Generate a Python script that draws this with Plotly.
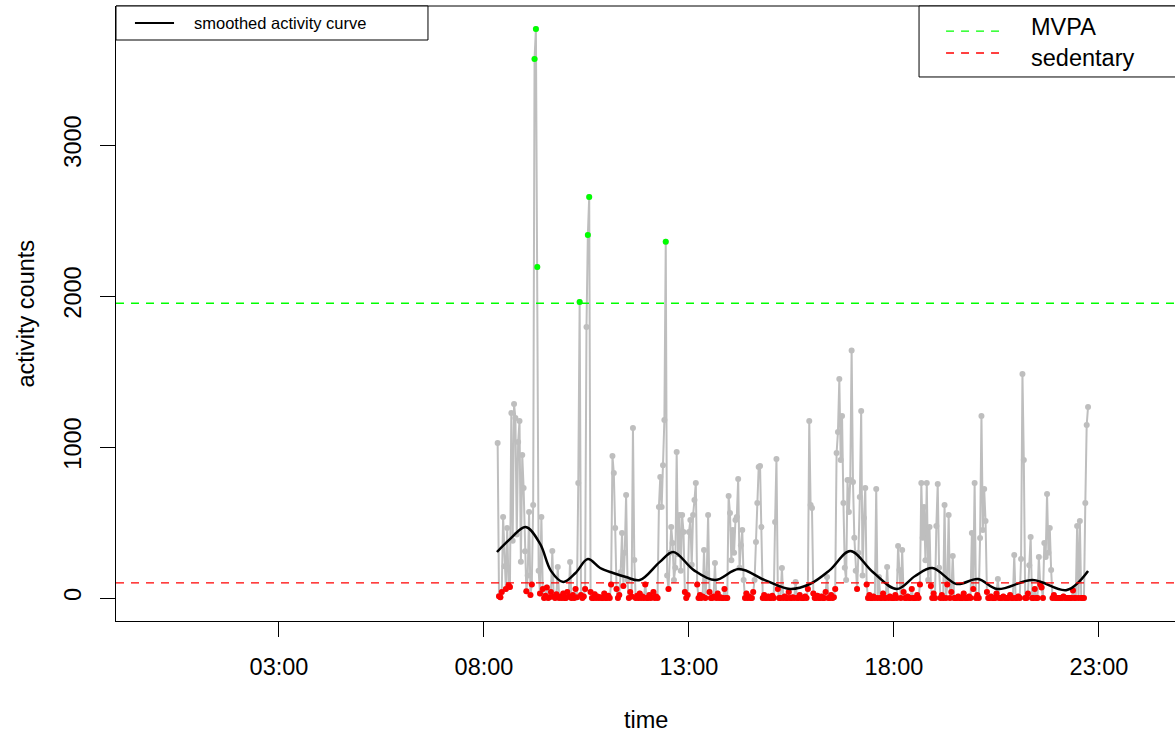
import pandas as pd
import plotly.graph_objects as go

# ---- data -----------------------------------------------------------------
DAY = "2000-01-01"
EPOCH_START = "08:20"
EPOCH_MIN = 2

# activity counts per epoch, grouped by clock hour
counts_08 = [1026, 12, 5, 40, 536, 210, 60, 464, 85, 73, 1225, 380, 1285, 1192, 420, 1033, 1172, 240, 947, 728]
counts_09 = [310, 45, 150, 570, 20, 90, 616, 3570, 3768, 2192, 180, 30, 536, 60, 0, 15, 70, 0, 5, 40,
             311, 10, 0, 25, 205, 0, 10, 0, 30, 0]
counts_10 = [0, 40, 10, 238, 0, 20, 0, 60, 5, 762, 1960, 20, 0, 10, 60, 1795, 2404, 2656, 40, 0,
             0, 25, 0, 10, 0, 5, 0, 0, 30, 0]
counts_11 = [0, 15, 0, 90, 940, 828, 464, 60, 0, 20, 170, 430, 80, 300, 682, 120, 0, 40, 10, 1126,
             252, 0, 15, 0, 30, 0, 10, 0, 90, 0]
counts_12 = [0, 20, 0, 5, 40, 0, 10, 0, 603, 801, 603, 880, 1179, 2360, 150, 60, 300, 470, 364, 120,
             200, 967, 290, 550, 180, 550, 437, 40, 0, 20]
counts_13 = [437, 516, 220, 550, 649, 762, 90, 0, 20, 0, 10, 318, 0, 160, 550, 40, 0, 0, 10, 232,
             0, 30, 0, 5, 0, 0, 60, 0, 0, 675]
counts_14 = [563, 250, 450, 300, 516, 536, 788, 200, 350, 450, 120, 0, 30, 0, 10, 0, 0, 40, 120, 371,
             629, 868, 874, 470, 0, 20, 0, 0, 10, 0]
counts_15 = [0, 15, 0, 503, 921, 60, 0, 0, 199, 0, 10, 0, 0, 40, 0, 0, 5, 0, 106, 0,
             0, 20, 0, 0, 0, 10, 0, 60, 1172, 616]
counts_16 = [596, 30, 0, 0, 15, 0, 0, 10, 0, 0, 40, 139, 0, 0, 20, 0, 5, 60, 960, 1099,
             1450, 914, 1205, 629, 200, 120, 781, 570, 781, 1640]
counts_17 = [768, 400, 180, 60, 300, 669, 1238, 150, 530, 728, 90, 0, 20, 0, 0, 10, 0, 722, 0, 139,
             0, 0, 30, 0, 0, 205, 0, 10, 0, 0]
counts_18 = [0, 20, 0, 344, 185, 0, 318, 40, 0, 0, 10, 0, 0, 60, 0, 0, 0, 20, 0, 90,
             762, 400, 603, 250, 762, 120, 470, 80, 0, 30]
counts_19 = [0, 477, 755, 200, 0, 20, 0, 616, 0, 90, 550, 0, 40, 278, 0, 0, 0, 10, 0, 0,
             0, 30, 0, 0, 0, 10, 0, 430, 60, 762]
counts_20 = [0, 20, 0, 397, 1205, 450, 722, 510, 40, 0, 0, 10, 0, 0, 0, 30, 126, 0, 0, 0,
             10, 0, 0, 0, 0, 20, 0, 0, 285, 0]
counts_21 = [0, 10, 0, 258, 1483, 914, 0, 0, 30, 218, 404, 0, 0, 60, 0, 0, 272, 90, 70, 0,
             364, 272, 689, 300, 464, 185, 0, 20, 0, 0]
counts_22 = [0, 0, 0, 0, 10, 0, 0, 0, 0, 0, 0, 50, 0, 0, 477, 0, 510, 0, 0, 0,
             629, 1146, 1265]

# smoothed activity curve (clock time, counts)
smooth_clock = ["08:19", "08:38", "09:01", "09:22", "09:38", "09:56", "10:14", "10:32", "10:50",
                "11:09", "11:28", "11:48", "12:17", "12:37", "13:07", "13:38", "14:13", "14:51",
                "15:28", "15:57", "16:26", "16:56", "17:29", "18:04", "18:31", "18:56", "19:32",
                "20:03", "20:31", "21:23", "22:13", "22:44"]
smooth_vals = [305, 390, 470, 360, 180, 106, 166, 258, 199, 166, 139, 119, 238, 305, 185, 119,
               192, 119, 60, 93, 185, 311, 172, 60, 146, 199, 93, 126, 60, 119, 53, 179]

MVPA_CUT = 1952
SED_CUT = 100

tick_clock = ["03:00", "08:00", "13:00", "18:00", "23:00"]

# ---- assemble -------------------------------------------------------------
counts = (counts_08 + counts_09 + counts_10 + counts_11 + counts_12 + counts_13 + counts_14 +
          counts_15 + counts_16 + counts_17 + counts_18 + counts_19 + counts_20 + counts_21 +
          counts_22)
times = pd.date_range(f"{DAY} {EPOCH_START}", periods=len(counts), freq=f"{EPOCH_MIN}min")
df = pd.DataFrame({"time": times, "counts": counts})
sed = df[df["counts"] < SED_CUT]
mvpa = df[df["counts"] >= MVPA_CUT]
smooth_t = pd.to_datetime([f"{DAY} {c}" for c in smooth_clock])
tick_t = pd.to_datetime([f"{DAY} {c}" for c in tick_clock])

GREY = "#BEBEBE"
FONT = "Liberation Sans, Arial, Helvetica, sans-serif"
DOT = 6

fig = go.Figure()
fig.add_trace(go.Scatter(x=df["time"], y=df["counts"], mode="lines+markers",
                         line=dict(color=GREY, width=2), marker=dict(color=GREY, size=DOT),
                         hoverinfo="skip"))
fig.add_trace(go.Scatter(x=sed["time"], y=sed["counts"], mode="markers",
                         marker=dict(color="#FF0000", size=DOT)))
fig.add_trace(go.Scatter(x=mvpa["time"], y=mvpa["counts"], mode="markers",
                         marker=dict(color="#00FF00", size=DOT)))
fig.add_trace(go.Scatter(x=smooth_t, y=smooth_vals, mode="lines",
                         line=dict(color="black", width=2.5, shape="spline", smoothing=1.0)))

DASH = "8px,7px"
fig.add_hline(y=MVPA_CUT, line=dict(color="#00FF00", width=1.3, dash=DASH))
fig.add_hline(y=SED_CUT, line=dict(color="#FF0000", width=1.3, dash=DASH))

# frame top edge
fig.add_shape(type="line", xref="paper", yref="paper", x0=0, x1=1.02, y0=1, y1=1,
              line=dict(color="black", width=1))

# ---- legends --------------------------------------------------------------
def box(x0, x1, y0, y1):
    fig.add_shape(type="rect", xref="paper", yref="paper", x0=x0, x1=x1, y0=y0, y1=y1,
                  line=dict(color="black", width=1), fillcolor="white", layer="above")

def key_line(x0, x1, y, color, dash=None, width=2):
    fig.add_shape(type="line", xref="paper", yref="paper", x0=x0, x1=x1, y0=y, y1=y,
                  line=dict(color=color, width=width, dash=dash), layer="above")

def key_text(x, y, text, size):
    fig.add_annotation(xref="paper", yref="paper", x=x, y=y, text=text, showarrow=False,
                       xanchor="left", yanchor="middle", align="left", borderpad=0,
                       font=dict(family=FONT, size=size, color="black"))

box(0, 0.2946, 0.9447, 1.0)
key_line(0.0179, 0.0548, 0.9724, "black", width=2)
key_text(0.0727, 0.9724, "smoothed activity curve", 16.5)

box(0.7583, 1.02, 0.8846, 1.0)
key_line(0.7838, 0.8376, 0.9593, "#00FF00", dash=DASH, width=1.3)
key_line(0.7838, 0.8376, 0.9236, "#FF0000", dash=DASH, width=1.3)
key_text(0.8631, 0.9407, "MVPA<br>sedentary", 23.5)

# axis titles
fig.add_annotation(xref="paper", yref="paper", x=0.5, y=-0.161, text="time", showarrow=False,
                   xanchor="center", yanchor="middle", font=dict(family=FONT, size=23.5))
fig.add_annotation(xref="paper", yref="paper", x=-0.0859, y=0.5, text="activity counts",
                   showarrow=False, textangle=-90, xanchor="center", yanchor="middle",
                   font=dict(family=FONT, size=23.5))

x_lo = pd.Timestamp(f"{DAY} 00:00") - pd.Timedelta(minutes=58.5)
x_hi = pd.Timestamp(f"{DAY} 00:00") + pd.Timedelta(minutes=24.854 * 60)

fig.update_xaxes(range=[x_lo, x_hi], tickvals=tick_t, ticktext=tick_clock,
                 ticks="outside", ticklen=15, tickwidth=1, tickcolor="black",
                 showline=True, linecolor="black", linewidth=1, mirror=False,
                 showgrid=False, zeroline=False, tickfont=dict(family=FONT, size=23.5, color="black"),
                 ticklabelstandoff=10)
fig.update_yaxes(range=[-152, 3920.5], tickvals=[0, 1000, 2000, 3000],
                 ticktext=["0", "1000", "2000", "3000"], tickangle=-90,
                 ticks="outside", ticklen=15, tickwidth=1, tickcolor="black",
                 showline=True, linecolor="black", linewidth=1,
                 showgrid=False, zeroline=False, tickfont=dict(family=FONT, size=23.5, color="black"),
                 ticklabelstandoff=10)

fig.update_layout(width=1175, height=737, margin=dict(l=116, r=0, t=6, b=116),
                  plot_bgcolor="white", paper_bgcolor="white", showlegend=False,
                  font=dict(family=FONT, size=23.5, color="black"))

fig.write_html("out.html")
